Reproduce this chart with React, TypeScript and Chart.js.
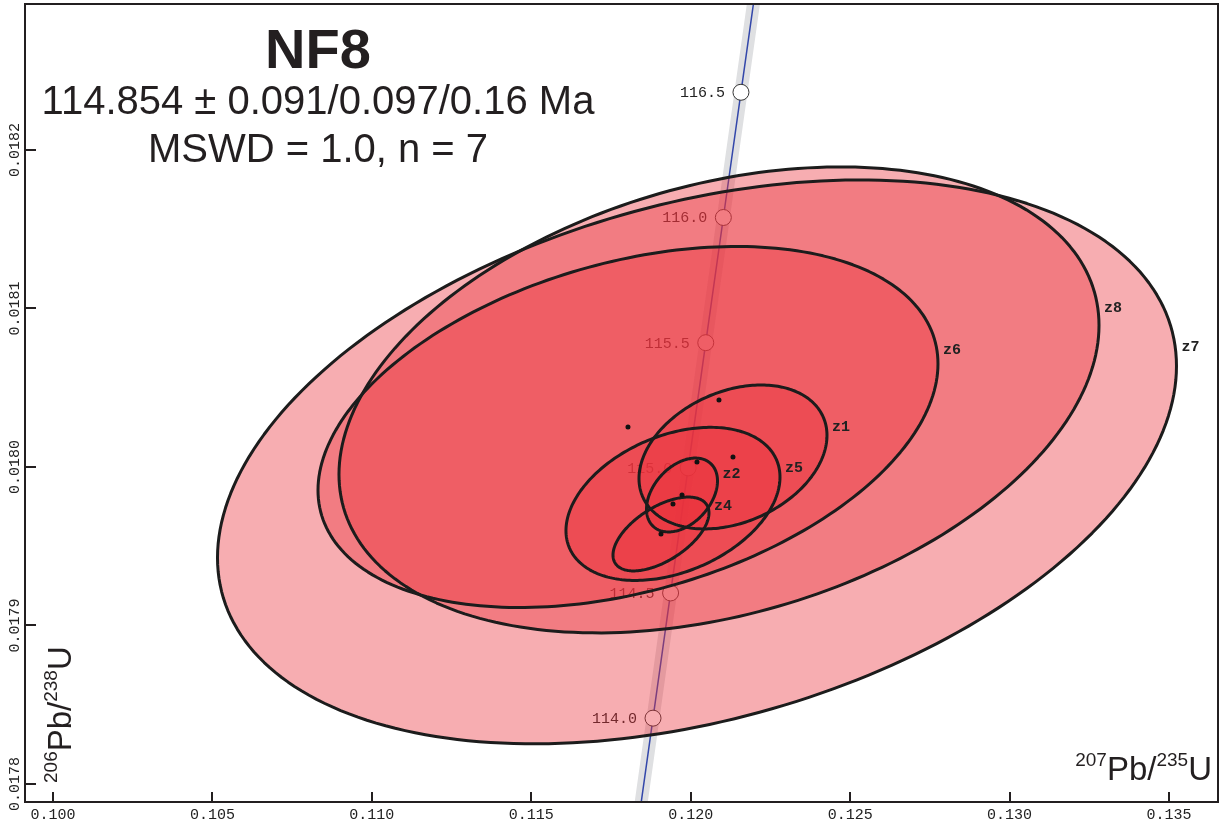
import React, { useEffect, useRef } from 'react';
import { Chart, registerables } from 'chart.js';

Chart.register(...registerables);

// Grain analyses: 207Pb/235U and 206Pb/238U with error half-widths and error correlation
const grainNames = ['z1', 'z2', 'z4', 'z5', 'z6', 'z7', 'z8'];
const pb207U235 = [0.121326, 0.119727, 0.119068, 0.119444, 0.118033, 0.120197, 0.120887];
const pb207U235Err = [0.002948, 0.001113, 0.001505, 0.003356, 0.009722, 0.015038, 0.011918];
const pb206U238 = [0.0180063, 0.0179823, 0.0179577, 0.0179767, 0.0180252, 0.0180032, 0.0180423];
const pb206U238Err = [0.0000454, 0.0000233, 0.0000233, 0.0000483, 0.0001139, 0.0001779, 0.000147];
const errCorr = [0.3, 0.38, 0.57, 0.35, 0.35, 0.34, 0.32];

// Concordia curve (age in Ma and the matching isotope ratios)
const concordiaAges = [113.5, 114.0, 114.5, 115.0, 115.5, 116.0, 116.5, 117.0];
const concordiaX = [0.118267, 0.118818, 0.119369, 0.11992, 0.120472, 0.121024, 0.121576, 0.122129];
const concordiaY = [0.0177626, 0.0178415, 0.0179205, 0.0179994, 0.0180784, 0.0181574, 0.0182364, 0.0183153];
const labelledAges = [114.0, 114.5, 115.0, 115.5, 116.0, 116.5];

// Axes
const xTicks = [0.1, 0.105, 0.11, 0.115, 0.12, 0.125, 0.13, 0.135];
const yTicks = [0.0178, 0.0179, 0.018, 0.0181, 0.0182];
const xRange = [0.099122, 0.136537];
const yRange = [0.0177886, 0.0182921];

const titleLines = ['NF8', '114.854 ± 0.091/0.097/0.16 Ma', 'MSWD = 1.0, n = 7'];

const INK = '#231f20';
const ELLIPSE_FILL = 'rgba(235, 50, 60, 0.4)';
const MONO = '"Liberation Mono", "DejaVu Sans Mono", monospace';
const SANS = '"Liberation Sans", Arial, Helvetica, sans-serif';

function traceEllipse(ctx: CanvasRenderingContext2D, xs: any, ys: any, i: number) {
  const steps = 240;
  const r = errCorr[i];
  const q = Math.sqrt(1 - r * r);
  ctx.beginPath();
  for (let k = 0; k <= steps; k++) {
    const t = (k / steps) * Math.PI * 2;
    const c = Math.cos(t);
    const s = Math.sin(t);
    const vx = pb207U235[i] + pb207U235Err[i] * c;
    const vy = pb206U238[i] + pb206U238Err[i] * (r * c + q * s);
    const px = xs.getPixelForValue(vx);
    const py = ys.getPixelForValue(vy);
    if (k === 0) ctx.moveTo(px, py);
    else ctx.lineTo(px, py);
  }
  ctx.closePath();
}

// Isotope-ratio label such as 207Pb/235U with superscript mass numbers, drawn from (0,0)
function drawRatioLabel(ctx: CanvasRenderingContext2D, parts: string[], big: number, small: number) {
  let x = 0;
  parts.forEach((txt, k) => {
    const sup = k % 2 === 0;
    ctx.font = `${sup ? small : big}px ${SANS}`;
    ctx.fillText(txt, x, sup ? -0.42 * big : 0);
    x += ctx.measureText(txt).width;
  });
}

function ratioLabelWidth(ctx: CanvasRenderingContext2D, parts: string[], big: number, small: number) {
  let w = 0;
  parts.forEach((p, k) => {
    ctx.font = `${k % 2 === 0 ? small : big}px ${SANS}`;
    w += ctx.measureText(p).width;
  });
  return w;
}

const decorPlugin = {
  id: 'concordiaDecor',
  afterDatasetDraw(chart: any, args: any) {
    if (args.index !== 2) return;
    const ctx: CanvasRenderingContext2D = chart.ctx;
    const xs = chart.scales.x;
    const ys = chart.scales.y;
    const area = chart.chartArea;

    ctx.save();
    // age labels beside the concordia markers
    ctx.font = `15px ${MONO}`;
    ctx.fillStyle = '#222';
    ctx.textAlign = 'right';
    ctx.textBaseline = 'middle';
    labelledAges.forEach((age) => {
      const k = concordiaAges.indexOf(age);
      const px = xs.getPixelForValue(concordiaX[k]);
      const py = ys.getPixelForValue(concordiaY[k]);
      ctx.fillText(age.toFixed(1), px - 16, py + 1);
    });

    ctx.beginPath();
    ctx.rect(area.left, area.top, area.right - area.left, area.bottom - area.top);
    ctx.clip();

    // error ellipses, largest first: all fills, then all outlines
    const order = grainNames
      .map((_, i) => i)
      .sort((a, b) => pb207U235Err[b] * pb206U238Err[b] - pb207U235Err[a] * pb206U238Err[a]);
    ctx.fillStyle = ELLIPSE_FILL;
    order.forEach((i) => {
      traceEllipse(ctx, xs, ys, i);
      ctx.fill();
    });
    ctx.strokeStyle = '#1c1c1c';
    ctx.lineWidth = 3;
    ctx.lineJoin = 'round';
    order.forEach((i) => {
      traceEllipse(ctx, xs, ys, i);
      ctx.stroke();
    });
    ctx.restore();
  },
  afterDatasetsDraw(chart: any) {
    const ctx: CanvasRenderingContext2D = chart.ctx;
    const xs = chart.scales.x;
    const ys = chart.scales.y;
    ctx.save();
    ctx.font = `bold 15px ${MONO}`;
    ctx.fillStyle = '#222';
    ctx.textAlign = 'left';
    ctx.textBaseline = 'middle';
    grainNames.forEach((name, i) => {
      const px = xs.getPixelForValue(pb207U235[i] + pb207U235Err[i]);
      const py = ys.getPixelForValue(pb206U238[i] + errCorr[i] * pb206U238Err[i]);
      const hpx = Math.abs(ys.getPixelForValue(pb206U238[i] + pb206U238Err[i]) - ys.getPixelForValue(pb206U238[i]));
      ctx.fillText(name, px + 5, py - (0.05 * hpx + 5));
    });
    ctx.restore();
  },
  afterDraw(chart: any) {
    const ctx: CanvasRenderingContext2D = chart.ctx;
    const xs = chart.scales.x;
    const ys = chart.scales.y;
    const { left, right, top, bottom } = chart.chartArea;
    ctx.save();

    // frame
    ctx.strokeStyle = INK;
    ctx.lineWidth = 2;
    ctx.strokeRect(left, top, right - left, bottom - top);

    // inward tick marks on the bottom and left axes
    ctx.beginPath();
    xTicks.forEach((v) => {
      const px = Math.round(xs.getPixelForValue(v));
      ctx.moveTo(px, bottom);
      ctx.lineTo(px, bottom - 10);
    });
    yTicks.forEach((v) => {
      const py = Math.round(ys.getPixelForValue(v));
      ctx.moveTo(left, py);
      ctx.lineTo(left + 11, py);
    });
    ctx.stroke();

    // tick labels
    ctx.fillStyle = '#222';
    ctx.font = `15px ${MONO}`;
    ctx.textAlign = 'center';
    ctx.textBaseline = 'middle';
    xTicks.forEach((v) => {
      ctx.fillText(v.toFixed(3), xs.getPixelForValue(v), bottom + 13);
    });
    yTicks.forEach((v) => {
      ctx.save();
      ctx.translate(left - 10, ys.getPixelForValue(v));
      ctx.rotate(-Math.PI / 2);
      ctx.fillText(v.toFixed(4), 0, 0);
      ctx.restore();
    });

    // axis titles
    ctx.fillStyle = INK;
    ctx.textAlign = 'left';
    ctx.textBaseline = 'alphabetic';
    const big = 33;
    const small = 19;
    const xParts = ['207', 'Pb/', '235', 'U'];
    const wx = ratioLabelWidth(ctx, xParts, big, small);
    ctx.save();
    ctx.translate(right - 6 - wx, bottom - 22);
    drawRatioLabel(ctx, xParts, big, small);
    ctx.restore();

    ctx.save();
    ctx.translate(left + 46, bottom - 19);
    ctx.rotate(-Math.PI / 2);
    drawRatioLabel(ctx, ['206', 'Pb/', '238', 'U'], big, small);
    ctx.restore();

    // title block
    const cx = 318;
    ctx.textAlign = 'center';
    ctx.font = `bold 56px ${SANS}`;
    ctx.fillText(titleLines[0], cx, 68);
    ctx.font = `40px ${SANS}`;
    ctx.fillText(titleLines[1], cx, 114);
    ctx.fillText(titleLines[2], cx, 162);

    ctx.restore();
  },
};

export default function App() {
  const canvasRef = useRef<HTMLCanvasElement | null>(null);

  useEffect(() => {
    document.body.style.margin = '0';
    const canvas = canvasRef.current;
    if (!canvas) return;

    const curve = concordiaX.map((x, k) => ({ x, y: concordiaY[k] }));
    const markers = labelledAges.map((age) => {
      const k = concordiaAges.indexOf(age);
      return { x: concordiaX[k], y: concordiaY[k] };
    });
    const centres = pb207U235.map((x, i) => ({ x, y: pb206U238[i] }));

    const chart = new Chart(canvas, {
      type: 'scatter',
      data: {
        datasets: [
          {
            label: 'concordia band',
            data: curve,
            showLine: true,
            borderColor: '#dfe0e2',
            borderWidth: 13,
            pointRadius: 0,
            order: 4,
          },
          {
            label: 'concordia',
            data: curve,
            showLine: true,
            borderColor: '#3347aa',
            borderWidth: 1.5,
            pointRadius: 0,
            order: 3,
          },
          {
            label: 'age markers',
            data: markers,
            showLine: false,
            pointRadius: 8,
            pointBackgroundColor: '#ffffff',
            pointBorderColor: '#333333',
            pointBorderWidth: 1,
            order: 2,
          },
          {
            label: 'analyses',
            data: centres,
            showLine: false,
            pointRadius: 2.5,
            pointBackgroundColor: '#111111',
            pointBorderColor: '#111111',
            pointBorderWidth: 0,
            order: 1,
          },
        ],
      },
      options: {
        responsive: false,
        animation: false,
        events: [],
        layout: { autoPadding: false, padding: { left: 25, right: 5, top: 4, bottom: 24 } },
        plugins: {
          legend: { display: false },
          tooltip: { enabled: false },
          title: { display: false },
        },
        scales: {
          x: { type: 'linear', display: false, min: xRange[0], max: xRange[1] },
          y: { type: 'linear', display: false, min: yRange[0], max: yRange[1] },
        },
      },
      plugins: [decorPlugin],
    });

    return () => chart.destroy();
  }, []);

  return (
    <div style={{ position: 'absolute', left: 0, top: 0, width: 1223, height: 826, background: '#fff' }}>
      <canvas ref={canvasRef} width={1223} height={826} style={{ display: 'block' }} />
    </div>
  );
}
